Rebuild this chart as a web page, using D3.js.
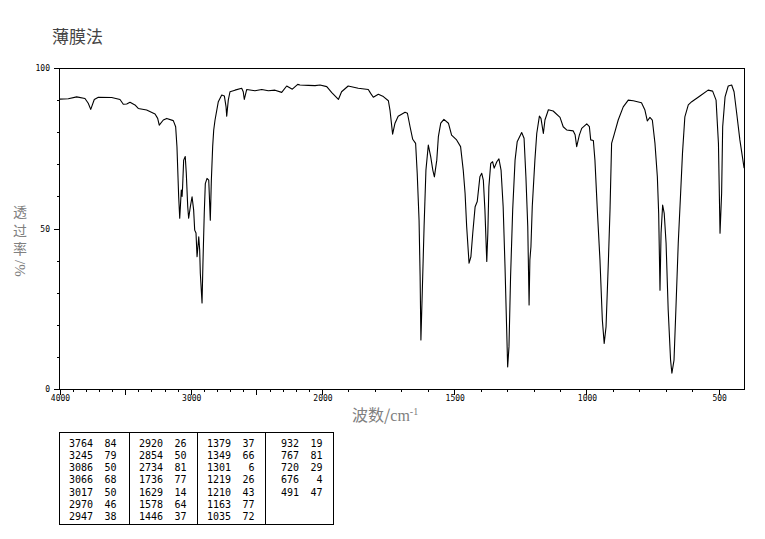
<!DOCTYPE html>
<html><head><meta charset="utf-8">
<script src="https://cdn.jsdelivr.net/npm/d3@7"></script>
<style>body{margin:0;background:#fff} svg{display:block}</style>
</head><body>
<svg id="c" width="765" height="539"></svg>
<script>
// Spectrum trace (wavenumber cm-1, transmittance %)
const wavenumbers = [4000,3933,3869,3806,3781,3762,3735,3704,3602,3539,3514,3488,3463,3425,3400,3336,3272,3252,3240,3209,3183,3133,3115,3105,3092,3084,3072,3066,3062,3054,3042,3034,3023,3016,3003,2990,2978,2970,2960,2952,2939,2932,2927,2914,2907,2897,2889,2876,2863,2851,2843,2833,2825,2815,2790,2764,2744,2731,2726,2714,2701,2663,2612,2600,2592,2574,2511,2459,2409,2358,2307,2269,2226,2185,2168,2104,2053,2015,1982,1963,1938,1926,1901,1863,1825,1816,1806,1787,1768,1749,1743,1733,1724,1712,1686,1677,1667,1657,1646,1640,1633,1629,1626,1621,1614,1607,1598,1589,1581,1575,1566,1560,1551,1539,1522,1510,1491,1476,1466,1459,1453,1444,1437,1430,1421,1413,1403,1396,1390,1384,1377,1373,1369,1362,1355,1349,1339,1331,1323,1315,1308,1302,1298,1293,1287,1279,1270,1262,1245,1236,1229,1222,1217,1214,1210,1205,1195,1188,1178,1172,1163,1157,1144,1126,1100,1088,1075,1050,1043,1037,1027,1018,999,989,984,974,968,959,949,940,933,926,917,911,905,896,880,861,842,823,792,779,770,760,751,741,732,727,722,718,712,706,699,691,682,677,669,662,653,644,637,628,615,602,571,540,523,510,501,495,489,485,476,464,451,442,432,420,404];
const transmittance = [90.3,90.4,91.0,90.5,89.0,87.1,90.2,90.9,90.8,90.2,88.7,88.8,89.3,88.5,87.4,86.9,85.7,84.3,82.2,83.8,84.3,83.6,81.7,75.4,59.9,53.2,62.0,60.0,63.0,71.3,72.4,67.2,56.8,53.2,56.8,59.9,55.8,49.5,48.6,41.2,47.4,43.3,36.0,26.8,39.3,54.8,64.0,65.6,65.1,52.6,65.1,75.5,80.7,83.8,89.5,91.6,91.3,87.9,85.0,90.0,92.6,93.1,93.7,92.6,90.2,93.3,92.9,93.3,92.9,93.1,92.4,94.4,93.4,94.9,94.7,94.6,94.5,94.7,94.2,92.3,90.2,92.6,94.4,93.7,93.3,92.1,90.9,91.8,91.1,89.8,86.9,79.4,82.8,85.0,86.2,85.9,81.7,77.8,76.5,67.2,52.6,35.0,15.3,29.8,50.6,68.2,76.0,72.4,68.2,66.1,71.3,78.6,82.8,84.0,82.8,79.1,77.6,75.5,68.2,61.0,50.6,39.2,41.2,48.5,56.8,58.4,66.1,67.2,65.1,55.8,39.7,48.5,63.0,70.3,70.8,68.8,70.8,71.7,68.2,56.8,38.1,19.4,6.9,13.2,35.0,55.8,71.3,77.0,79.9,78.1,66.1,50.6,26.2,40.2,44.3,56.8,71.3,79.6,85.0,84.3,79.6,83.8,87.0,86.6,84.6,81.7,80.7,80.4,79.2,75.5,79.1,81.2,82.6,81.7,77.6,77.4,71.3,55.8,40.2,21.5,14.2,19.4,40.2,55.8,76.5,79.1,83.8,87.9,90.0,89.8,89.2,86.9,83.5,84.6,83.8,76.5,66.1,54.7,30.8,48.5,57.3,54.7,45.4,24.6,9.0,4.9,9.0,24.6,45.4,61.0,73.4,84.8,88.5,89.5,91.3,93.1,92.8,90.0,76.5,48.5,61.0,81.7,91.0,94.4,94.7,92.6,85.9,77.6,68.8];

// Peak table
const peakWn = [3764,3245,3086,3066,3017,2970,2947,2920,2854,2734,1736,1629,1578,1446,1379,1349,1301,1219,1210,1163,1035,932,767,720,676,491];
const peakT  = [84,79,50,68,50,46,38,26,50,81,77,14,64,37,37,66,6,26,43,77,72,19,81,29,4,47];

const xLabels = [4000,3000,2000,1500,1000,500];
const xMajor = [4000,3500,3000,2500,2000,1500,1000,500];
const yLabels = [0,50,100];

const svg = d3.select("#c");
const x = d3.scaleLinear().domain([4000,2000,404]).range([59.5,322,744.1]);
const y = d3.scaleLinear().domain([0,100]).range([389,68]);

const monoFont = "'DejaVu Sans Mono', monospace";
const cjkFont = "'Noto Sans CJK SC', 'Noto Sans CJK JP', sans-serif";
const serifCjk = "'Liberation Serif', 'Noto Sans CJK SC', serif";

// Title
svg.append("text").attr("x",52).attr("y",43).attr("font-family",cjkFont)
  .attr("font-size",17).attr("fill","#444").text("薄膜法");

// Frame
const g = svg.append("g").attr("shape-rendering","crispEdges");
g.append("rect").attr("x",x(4000)).attr("y",y(100))
  .attr("width",x(404)-x(4000)).attr("height",y(0)-y(100))
  .attr("fill","none").attr("stroke","#000").attr("stroke-width",1);

// X ticks
const minor = d3.range(4000,499,-100);
g.selectAll(".xt").data(minor).join("line")
  .attr("x1",d=>Math.round(x(d))+0.5).attr("x2",d=>Math.round(x(d))+0.5)
  .attr("y1",y(0)).attr("y2",d=>y(0)+(xMajor.includes(d)?6:3))
  .attr("stroke","#000");
svg.selectAll(".xl").data(xLabels).join("text")
  .attr("x",d=>x(d)+1).attr("y",401).attr("text-anchor","middle")
  .attr("font-family",monoFont).attr("font-size",8).attr("fill","#000")
  .text(d=>d);

// Y ticks
const yt = d3.range(0,101,10);
g.selectAll(".yt").data(yt).join("line")
  .attr("x1",d=>x(4000)-(yLabels.includes(d)?6:3)).attr("x2",x(4000))
  .attr("y1",d=>Math.round(y(d))+0.5).attr("y2",d=>Math.round(y(d))+0.5)
  .attr("stroke","#000");
svg.selectAll(".yl").data(yLabels).join("text")
  .attr("x",50).attr("y",d=>y(d)+3).attr("text-anchor","end")
  .attr("font-family",monoFont).attr("font-size",8).attr("fill","#000")
  .text(d=>d);

// Axis titles
const xt = svg.append("text").attr("x",352).attr("y",421)
  .attr("font-family",cjkFont).attr("font-size",16).attr("fill","#808080");
xt.append("tspan").text("波数/");
xt.append("tspan").attr("font-family","'Liberation Serif', serif").text("cm");
xt.append("tspan").attr("font-family","'Liberation Serif', serif").attr("font-size",10).attr("dy",-6).text("-1");

// Vertical y title: CJK upright (stacked), "/%" rotated
const yTitleChars = ["透","过","率"];
const yTitleY = [212,230.5,249];
const ytt = svg.append("text").attr("text-anchor","middle").attr("dominant-baseline","central")
  .attr("font-family",serifCjk).attr("font-size",14).attr("fill","#808080");
yTitleChars.forEach((ch,i)=>{
  ytt.append("tspan").attr("x",20).attr("y",yTitleY[i]).text(ch);
});
svg.append("text").attr("transform","translate(20,260) rotate(90)")
  .attr("x",0).attr("y",0).attr("dominant-baseline","central")
  .attr("font-family","'Liberation Serif', serif").attr("font-size",15).attr("fill","#808080").text("/%");

// Spectrum line
const pts = wavenumbers.map((w,i)=>[w,transmittance[i]]);
svg.append("path").datum(pts)
  .attr("d",d3.line().x(d=>x(d[0])).y(d=>y(d[1])))
  .attr("fill","none").attr("stroke","#000").attr("stroke-width",1.1)
  .attr("stroke-linejoin","round");

// Peak table
const tb = svg.append("g");
const tLeft = 59, tRight = 333, tTop = 432, tBot = 524;
const colLefts = [59,129,197,265];
tb.append("rect").attr("x",tLeft+0.5).attr("y",tTop+0.5)
  .attr("width",tRight-tLeft).attr("height",tBot-tTop)
  .attr("fill","none").attr("stroke","#000").attr("shape-rendering","crispEdges");
colLefts.slice(1).forEach(cx=>{
  tb.append("line").attr("x1",cx+0.5).attr("x2",cx+0.5).attr("y1",tTop).attr("y2",tBot)
    .attr("stroke","#000").attr("shape-rendering","crispEdges");
});
const rows = 7;
peakWn.forEach((w,i)=>{
  const c = Math.floor(i/rows), r = i%rows;
  const cy = 446.5 + r*12.33;
  tb.append("text").attr("x",colLefts[c]+34).attr("y",cy).attr("text-anchor","end")
    .attr("font-family",monoFont).attr("font-size",10).text(w);
  tb.append("text").attr("x",colLefts[c]+57.5).attr("y",cy).attr("text-anchor","end")
    .attr("font-family",monoFont).attr("font-size",10).text(peakT[i]);
});
</script>
</body></html>
